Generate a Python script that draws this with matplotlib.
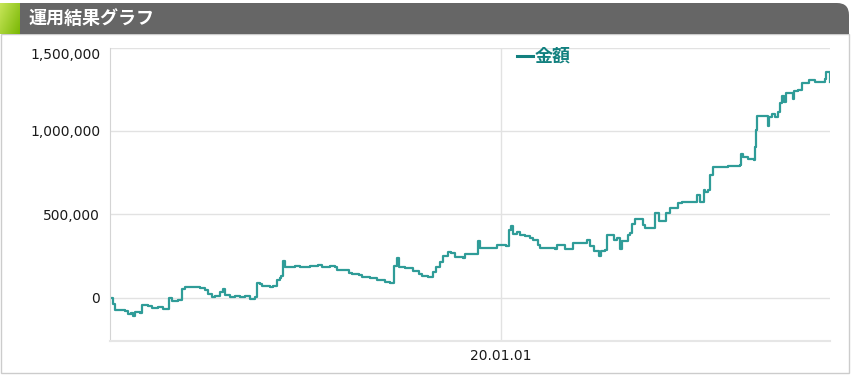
import matplotlib
matplotlib.use("Agg")
import matplotlib.pyplot as plt
import matplotlib.dates as mdates
from matplotlib.patches import Rectangle, FancyBboxPatch
from matplotlib.ticker import FuncFormatter
import numpy as np
import pandas as pd

# chart data: days since start and amount (thousand yen)
start_date = "2019-01-01"
days = [0, 3, 5, 14, 17, 20, 21, 23, 28, 30,
        35, 39, 45, 49, 53, 55, 58, 63, 67, 70,
        79, 84, 89, 91, 95, 98, 103, 105, 107, 112,
        117, 121, 126, 131, 135, 137, 140, 142, 149, 152,
        156, 159, 160, 161, 163, 173, 177, 187, 194, 198,
        205, 210, 212, 219, 223, 226, 232, 235, 243, 249,
        257, 261, 264, 265, 268, 270, 275, 280, 283, 288,
        291, 297, 301, 304, 308, 311, 315, 318, 322, 329,
        331, 341, 343, 345, 359, 361, 370, 372, 374, 376,
        380, 383, 387, 392, 395, 399, 401, 415, 417, 422,
        425, 432, 443, 445, 448, 452, 456, 458, 462, 464,
        469, 470, 473, 476, 478, 483, 485, 487, 490, 495,
        497, 499, 507, 509, 512, 516, 519, 523, 530, 534,
        544, 548, 551, 554, 555, 558, 560, 563, 577, 588,
        589, 591, 595, 601, 602, 603, 604, 612, 614, 615,
        618, 621, 623, 625, 627, 629, 631, 635, 637, 638,
        642, 646, 651, 652, 656, 658, 667, 668, 671, 672]
amount_k = [0, -36, -72, -78, -96, -90, -108, -84, -90, -42,
            -48, -60, -54, -66, -66, 0, -18, -12, 54, 66,
            66, 60, 48, 24, 6, 12, 36, 54, 18, 6,
            12, 6, 12, -6, 6, 90, 84, 72, 66, 72,
            108, 120, 132, 222, 186, 192, 186, 192, 198, 186,
            192, 186, 168, 168, 150, 144, 138, 126, 120, 108,
            96, 90, 90, 192, 240, 186, 180, 180, 162, 144,
            132, 126, 156, 186, 216, 251, 275, 269, 245, 240,
            263, 263, 341, 299, 299, 317, 311, 407, 431, 383,
            395, 377, 371, 359, 347, 317, 299, 293, 317, 317,
            293, 329, 329, 347, 311, 281, 251, 281, 287, 377,
            377, 347, 359, 293, 341, 377, 389, 443, 473, 473,
            437, 419, 419, 509, 461, 461, 509, 539, 569, 575,
            575, 617, 575, 647, 635, 647, 737, 784, 790, 796,
            862, 844, 832, 826, 904, 1006, 1090, 1090, 1030, 1084,
            1102, 1084, 1114, 1168, 1210, 1174, 1228, 1228, 1192, 1240,
            1246, 1287, 1287, 1305, 1305, 1293, 1311, 1353, 1353, 1293]
y_ticks = [0, 500000, 1000000, 1500000]
x_tick_dates = ["2020-01-01"]
title = "運用結果グラフ"
series_label = "金額"

dates = pd.Timestamp(start_date) + pd.to_timedelta(days, unit="D")
amounts = np.array(amount_k) * 1000

W, H = 852, 377
fig = plt.figure(figsize=(W / 100, H / 100), dpi=100)
fig.patch.set_facecolor("white")

# outer box + header (pixel coords), kept behind the axes
fig.patches.append(Rectangle((0.5, H - 373), 848.5, 373 - 34, transform=None,
                             facecolor="white", edgecolor="#cccccc", linewidth=1, zorder=-3))
fig.patches.append(FancyBboxPatch((12, H - 34 + 12), 837 - 12, 31 - 24, transform=None,
                                  boxstyle="round,pad=12", facecolor="#666666", edgecolor="none", zorder=-2))
fig.patches.append(Rectangle((0, H - 34), 830, 31, transform=None,
                             facecolor="#666666", edgecolor="none", zorder=-2))
fig.patches.append(Rectangle((0, H - 34), 849, 15, transform=None,
                             facecolor="#666666", edgecolor="none", zorder=-2))

# green tab with gradient
tab = fig.add_axes([0, (H - 34) / H, 20 / W, 31 / H])
gx, gy = np.meshgrid(np.linspace(0, 1, 20), np.linspace(0, 1, 31))
t = np.clip(0.6 * gx + 0.4 * gy, 0, 1)
c0 = np.array([0.78, 0.90, 0.35])
c1 = np.array([0.48, 0.72, 0.02])
img = c0[None, None, :] * (1 - t[..., None]) + c1[None, None, :] * t[..., None]
tab.imshow(img, aspect="auto", interpolation="bilinear")
tab.axis("off")

fig.text(28 / W, 1 - 18.5 / H, title, color="white", fontsize=13, fontweight="bold",
         family=["Noto Sans CJK JP", "DejaVu Sans"], va="center", ha="left")

# main plot
ax = fig.add_axes([110 / W, 1 - 341 / H, 720 / W, 293.5 / H])
ax.patch.set_alpha(0)
line_color = "#2f9c98"
ax.plot(dates, amounts, color=line_color, linewidth=1.6, drawstyle="steps-post", label=series_label)

ax.set_xlim(dates[0], dates[-1])
ax.set_ylim(-259600, 1500000)
ax.set_yticks(y_ticks)
ax.yaxis.set_major_formatter(FuncFormatter(lambda v, p: "{:,.0f}".format(v)))
ax.set_xticks(pd.to_datetime(x_tick_dates))
ax.xaxis.set_major_formatter(mdates.DateFormatter("%y.%m.%d"))

ax.grid(True, color="#e2e2e2", linewidth=1)
ax.set_axisbelow(True)
for s in ["top", "right"]:
    ax.spines[s].set_visible(False)
ax.spines["left"].set_color("#d4d4d4")
ax.spines["bottom"].set_color("#e6e6e6")
ax.spines["bottom"].set_linewidth(1.5)
ax.tick_params(axis="y", length=0, pad=7, labelsize=10, labelcolor="#1a1a1a")
ax.tick_params(axis="x", length=0, pad=6, labelsize=10, labelcolor="#1a1a1a")
ax.get_yticklabels()[-1].set_verticalalignment("top")

leg = ax.legend(loc="upper left", bbox_to_anchor=(517 / W, 1 - 47 / H), bbox_transform=fig.transFigure,
                frameon=False, handlelength=0.9, handletextpad=0.1, borderaxespad=0, borderpad=0,
                prop={"family": ["Noto Sans CJK JP", "DejaVu Sans"], "weight": "bold", "size": 13})
for txt in leg.get_texts():
    txt.set_color("#12807f")
for h in leg.get_lines():
    h.set_linewidth(2.2)
    h.set_color("#12807f")

fig.savefig("out.png", dpi=100)
